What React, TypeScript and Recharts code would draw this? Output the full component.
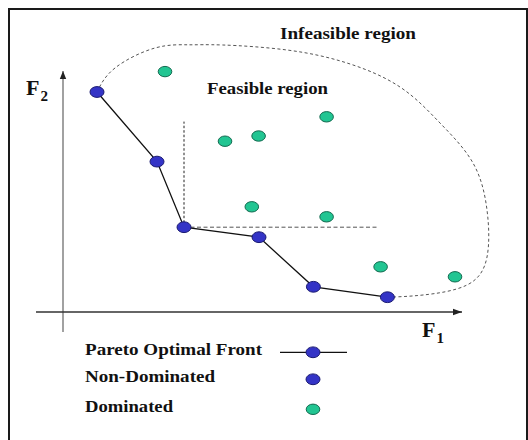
import React from 'react';
import {
  ComposedChart,
  Line,
  Scatter,
  XAxis,
  YAxis,
  ReferenceDot,
  ReferenceLine,
  Legend,
} from 'recharts';

// ---- data (objective space, arbitrary units) ----
const paretoF1 = [0.85, 2.35, 3.025, 4.9, 6.26, 8.11];
const paretoF2 = [5.5, 3.76, 2.12, 1.87, 0.63, 0.37];

const dominatedF1 = [2.55, 6.59, 4.89, 4.05, 4.72, 6.59, 7.94, 9.8];
const dominatedF2 = [6.01, 4.88, 4.4, 4.27, 2.63, 2.38, 1.13, 0.88];

// feasible-region boundary (from first to last Pareto point, around the top/right)
const boundaryF1 = [0.85, 1.3, 2.3, 3.15, 4.0, 5.6, 7.1, 8.425, 9.425, 10.25, 10.6, 10.6, 10.1, 9.0, 8.11];
const boundaryF2 = [5.5, 6.1, 6.6, 6.68, 6.675, 6.55, 6.225, 5.625, 4.725, 3.725, 2.55, 1.375, 0.675, 0.425, 0.37];

// axis extents
const f1AxisRange = [-0.675, 9.975];
const f2AxisRange = [-0.5, 6.025];

// dominance cone of the third Pareto point
const coneCornerIndex = 2;
const coneF1Max = 7.85;
const coneF2Max = 4.76;

const regionLabels = ['Infeasible region', 'Feasible region'];
const regionLabelF1 = [5.425, 3.6];
const regionLabelF2 = [6.825, 5.45];
const regionLabelWidth = [136, 121];

const axisTitles = ['F', 'F'];
const axisSubs = ['1', '2'];
const axisTitleF1 = [8.975, -0.925];
const axisTitleF2 = [-0.625, 5.425];

const legendLabels = ['Pareto Optimal Front', 'Non-Dominated', 'Dominated'];
const legendLabelWidth = [177, 130, 88];

// ---- built tables ----
const paretoData = paretoF1.map((x, i) => ({ x, y: paretoF2[i] }));
const dominatedData = dominatedF1.map((x, i) => ({ x, y: dominatedF2[i] }));
const boundaryData = boundaryF1.map((x, i) => ({ x, y: boundaryF2[i] }));
const xAxisLine = [
  { x: f1AxisRange[0], y: 0 },
  { x: f1AxisRange[1], y: 0 },
];
const yAxisLine = [
  { x: 0, y: f2AxisRange[0] },
  { x: 0, y: f2AxisRange[1] },
];
const corner = paretoData[coneCornerIndex];

const SERIF = "'Liberation Serif', 'Times New Roman', Times, serif";
const BLUE = '#3434c6';
const BLUE_EDGE = '#1b1b72';
const GREEN = '#22c592';
const GREEN_EDGE = '#146a50';

const BlueDot = (p: any) => (
  <ellipse cx={p.cx} cy={p.cy} rx={7} ry={5.4} fill={BLUE} stroke={BLUE_EDGE} strokeWidth={1} />
);
const GreenDot = (p: any) => (
  <ellipse cx={p.cx} cy={p.cy} rx={6.8} ry={5.2} fill={GREEN} stroke={GREEN_EDGE} strokeWidth={1} />
);

const upArrow = (p: any) =>
  p.index === 1 ? (
    <polygon
      key={`ua${p.index}`}
      points={`${p.cx},${p.cy} ${p.cx - 3.2},${p.cy + 8} ${p.cx + 3.2},${p.cy + 8}`}
      fill="#222"
    />
  ) : (
    <g key={`ua${p.index}`} />
  );
const rightArrow = (p: any) =>
  p.index === 1 ? (
    <polygon
      key={`ra${p.index}`}
      points={`${p.cx},${p.cy} ${p.cx - 9},${p.cy - 3.2} ${p.cx - 9},${p.cy + 3.2}`}
      fill="#222"
    />
  ) : (
    <g key={`ra${p.index}`} />
  );

const renderLegend = () => {
  const rowsY = [20, 46.7, 76.7];
  const dotY = [17.3, 44.3, 74.3];
  return (
    <svg width={300} height={95} style={{ display: 'block' }}>
      {legendLabels.map((t, i) => (
        <text
          key={t}
          x={5}
          y={rowsY[i]}
          fontFamily={SERIF}
          fontWeight="bold"
          fontSize={16.5}
          fill="#111"
          textLength={legendLabelWidth[i]}
          lengthAdjust="spacingAndGlyphs"
        >
          {t}
        </text>
      ))}
      <line x1={200} y1={dotY[0]} x2={267} y2={dotY[0]} stroke="#111" strokeWidth={1.2} />
      <ellipse cx={233} cy={dotY[0]} rx={7} ry={5.4} fill={BLUE} stroke={BLUE_EDGE} />
      <ellipse cx={233} cy={dotY[1]} rx={7} ry={5.4} fill={BLUE} stroke={BLUE_EDGE} />
      <ellipse cx={233} cy={dotY[2]} rx={6.8} ry={5.2} fill={GREEN} stroke={GREEN_EDGE} />
    </svg>
  );
};

export default function App() {
  return (
    <div
      style={{
        position: 'fixed',
        left: 8,
        top: 8,
        width: 520,
        height: 440,
        boxSizing: 'border-box',
        borderLeft: '2px solid #1a1a1a',
        borderTop: '2px solid #1a1a1a',
        borderRight: '2px solid #1a1a1a',
        background: '#fff',
      }}
    >
      <ComposedChart
        width={516}
        height={430}
        margin={{ top: 0, right: 0, bottom: 0, left: 0 }}
      >
        <XAxis type="number" dataKey="x" domain={[-1.325, 11.575]} allowDataOverflow hide />
        <YAxis type="number" dataKey="y" domain={[-3.2, 7.55]} allowDataOverflow hide />

        <Line
          data={yAxisLine}
          dataKey="y"
          stroke="#8a8a8a"
          strokeWidth={1.6}
          dot={upArrow}
          activeDot={false}
          legendType="none"
          isAnimationActive={false}
        />
        <Line
          data={xAxisLine}
          dataKey="y"
          stroke="#333"
          strokeWidth={1.3}
          dot={rightArrow}
          activeDot={false}
          legendType="none"
          isAnimationActive={false}
        />

        <Line
          data={boundaryData}
          dataKey="y"
          type="natural"
          stroke="#555"
          strokeWidth={1}
          strokeDasharray="3 2.5"
          dot={false}
          activeDot={false}
          legendType="none"
          isAnimationActive={false}
        />

        <ReferenceLine
          segment={[
            { x: corner.x, y: corner.y },
            { x: corner.x, y: coneF2Max },
          ]}
          stroke="#222"
          strokeWidth={1}
          strokeDasharray="2.5 2"
        />
        <ReferenceLine
          segment={[
            { x: corner.x, y: corner.y },
            { x: coneF1Max, y: corner.y },
          ]}
          stroke="#555"
          strokeWidth={1}
          strokeDasharray="4 2.5"
        />

        <Line
          data={paretoData}
          dataKey="y"
          type="linear"
          stroke="#111"
          strokeWidth={1.3}
          dot={false}
          activeDot={false}
          legendType="none"
          isAnimationActive={false}
        />

        <Scatter data={dominatedData} dataKey="y" shape={GreenDot} legendType="none" isAnimationActive={false} />
        <Scatter data={paretoData} dataKey="y" shape={BlueDot} legendType="none" isAnimationActive={false} />

        {regionLabels.map((t, i) => (
          <ReferenceDot
            key={t}
            x={regionLabelF1[i]}
            y={regionLabelF2[i]}
            r={0}
            shape={(p: any) => (
              <text
                x={p.cx}
                y={p.cy}
                fontFamily={SERIF}
                fontWeight="bold"
                fontSize={16.5}
                fill="#111"
                textLength={regionLabelWidth[i]}
                lengthAdjust="spacingAndGlyphs"
              >
                {t}
              </text>
            )}
          />
        ))}

        {axisTitles.map((t, i) => (
          <ReferenceDot
            key={`ax${i}`}
            x={axisTitleF1[i]}
            y={axisTitleF2[i]}
            r={0}
            shape={(p: any) => (
              <text x={p.cx} y={p.cy} fontFamily={SERIF} fontWeight="bold" fontSize={22} fill="#111">
                {t}
                <tspan fontSize={15} dy={6} dx={1}>
                  {axisSubs[i]}
                </tspan>
              </text>
            )}
          />
        ))}

        <Legend
          layout="horizontal"
          verticalAlign="middle"
          align="center"
          wrapperStyle={{ left: 70, top: 325, width: 300, height: 95 }}
          content={renderLegend}
        />
      </ComposedChart>
    </div>
  );
}
